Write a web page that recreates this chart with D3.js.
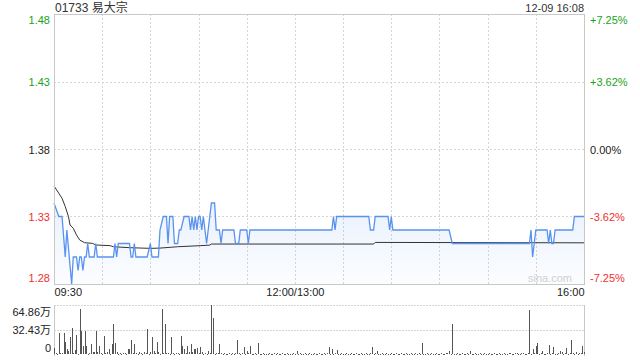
<!DOCTYPE html>
<html>
<head>
<meta charset="utf-8">
<script src="https://cdn.jsdelivr.net/npm/d3@7"></script>
<style>
    body { margin: 0; background: #fff; }
    svg text { font-family: "Liberation Sans", Arial, "Noto Sans CJK SC", sans-serif; }
</style>
</head>
<body>
<svg width="640" height="360"></svg>
<script>
// Title texts
const stockTitle = '01733 易大宗';
const stampText = '12-09 16:08';

// Price axis ticks (left) and change ticks (right)
const priceTicks = [1.48, 1.43, 1.38, 1.33, 1.28];
const pctLabels = ['+7.25%', '+3.62%', '0.00%', '-3.62%', '-7.25%'];
const tickColors = ['#1aa31a', '#1aa31a', '#222', '#f0302f', '#f0302f'];

// Time axis (minute index of trading day, 330 minutes)
const timeTicks = [0, 150, 330];
const timeLabels = ['09:30', '12:00/13:00', '16:00'];
const gridMinutes = [30, 60, 90, 120, 150, 180, 210, 240, 270, 300];

// Price line key points (minute, price)
const priceMinutes = [0, 3, 5, 7, 8, 11, 12, 14, 15, 16, 17, 18, 19, 20, 21, 22, 25, 26, 27, 37,
    38, 39, 40, 47, 48, 49, 50, 51, 58, 60, 61, 65, 66, 68, 70, 71, 72, 74, 75, 77,
    78, 79, 81, 84, 85, 86, 87, 88, 89, 90, 91, 92, 93, 95, 96, 98, 100, 101, 103, 104,
    105, 112, 113, 115, 116, 120, 121, 122, 173, 174, 175, 176, 196, 197, 199, 200, 208, 209, 210, 211,
    246, 248, 296, 297, 298, 300, 307, 308, 309, 310, 311, 312, 323, 324, 330];
const priceValues = [1.34, 1.33, 1.33, 1.30, 1.32, 1.28, 1.30, 1.30, 1.29, 1.30, 1.30, 1.29, 1.30, 1.30, 1.31, 1.30, 1.30, 1.31, 1.30, 1.30,
    1.31, 1.30, 1.31, 1.31, 1.30, 1.30, 1.31, 1.30, 1.30, 1.31, 1.30, 1.30, 1.32, 1.33, 1.33, 1.31, 1.33, 1.33, 1.31, 1.31,
    1.32, 1.32, 1.33, 1.33, 1.32, 1.33, 1.32, 1.33, 1.32, 1.33, 1.33, 1.32, 1.33, 1.31, 1.32, 1.34, 1.34, 1.32, 1.32, 1.31,
    1.32, 1.32, 1.31, 1.31, 1.32, 1.32, 1.31, 1.32, 1.32, 1.33, 1.32, 1.33, 1.33, 1.32, 1.32, 1.33, 1.33, 1.32, 1.33, 1.32,
    1.32, 1.31, 1.31, 1.32, 1.30, 1.32, 1.32, 1.31, 1.32, 1.31, 1.31, 1.32, 1.32, 1.33, 1.33];

// Average price line key points
const avgMinutes = [0, 3, 5, 7, 9, 10, 12, 14, 16, 19, 24, 26, 35, 37, 47, 60, 66, 77, 91, 97, 98, 199, 200, 330];
const avgValues = [1.3526, 1.3472, 1.3435, 1.3373, 1.33, 1.3237, 1.3213, 1.3163, 1.3126, 1.3106, 1.3101, 1.3089,
    1.3084, 1.3076, 1.3069, 1.3064, 1.3066, 1.3076, 1.3084, 1.3088, 1.3096, 1.3096, 1.3108, 1.3105];

// Volume per minute (万股), minute 0..330
const volumes = [
    8, 1, 0.5, 27.6, 1, 0.8, 27.9, 16, 6.6, 3.5,
    23, 34, 1, 5, 25, 0.6, 60, 30, 10, 30,
    10, 0.5, 1, 13, 3, 2, 30, 2, 10, 1.5,
    0.5, 24, 1, 2, 7, 0.6, 13, 40, 15, 2,
    0.5, 1, 0.4, 1, 1, 0.6, 7, 6, 19, 0.8,
    13, 1.5, 0.5, 2, 1, 0.4, 3, 1, 33, 0.6,
    2.5, 23, 4, 1.5, 16, 2, 0.5, 60, 1.5, 40,
    1.5, 1, 0.4, 23, 1.5, 0.5, 1, 1.5, 0.6, 24,
    10, 6, 1.5, 10, 2, 13, 2, 6, 6, 8,
    0.8, 9, 2, 0.5, 1, 0.4, 4, 1, 64.86, 47,
    0.6, 1.5, 1, 13, 0.8, 0.5, 1, 0.6, 0.4, 1,
    0.5, 0.8, 0.6, 1, 18, 0.7, 0.5, 1, 9, 0.6,
    4, 0.8, 10, 0.5, 0.6, 0.8, 0.4, 15, 0.6, 0.5,
    0.8, 0.5, 0.6, 0.4, 0.8, 0.5, 0.6, 0.7, 0.5, 0.8,
    0.6, 0.5, 0.7, 0.6, 0.5, 0.8, 0.4, 0.6, 0.5, 0.7,
    0.6, 4, 0.5, 0.7, 0.6, 0.5, 0.8, 0.6, 0.5, 0.7,
    0.5, 0.6, 0.8, 0.5, 0.6, 0.7, 0.5, 0.6, 1.5, 0.6,
    0.8, 9, 0.6, 6.6, 0.5, 0.7, 5.7, 0.6, 0.5, 0.7,
    0.6, 0.5, 0.7, 0.6, 0.5, 0.8, 0.6, 0.5, 0.7, 0.6,
    0.5, 0.7, 0.6, 0.5, 0.8, 0.6, 0.5, 1, 9, 0.6,
    0.7, 4.4, 0.6, 0.5, 0.7, 0.6, 0.5, 0.8, 0.6, 0.5,
    0.7, 0.6, 0.5, 0.8, 0.6, 0.5, 0.7, 0.6, 0.5, 0.8,
    0.6, 0.5, 0.7, 0.6, 0.5, 0.8, 0.6, 1.5, 0.6, 14.5,
    0.6, 0.5, 0.7, 0.6, 0.5, 0.8, 0.6, 0.5, 0.7, 0.6,
    0.5, 0.8, 0.6, 0.5, 0.7, 1.5, 3.5, 0.6, 40, 0.6,
    0.5, 0.7, 0.6, 0.5, 0.8, 0.6, 0.5, 0.7, 0.6, 4,
    0.6, 0.5, 0.7, 0.6, 0.5, 0.8, 0.6, 0.5, 0.7, 0.6,
    0.5, 0.8, 0.6, 0.5, 0.7, 0.6, 0.5, 0.8, 0.6, 0.5,
    0.7, 0.6, 0.5, 0.8, 1.5, 0.6, 0.5, 0.7, 1.2, 0.6,
    0.5, 0.8, 1.5, 0.6, 0.5, 1, 58, 0.6, 7, 0.8,
    11, 14.5, 0.6, 0.8, 4.4, 0.6, 0.5, 0.7, 12, 0.6,
    0.8, 9, 0.6, 0.5, 1.5, 3.5, 2, 0.6, 0.7, 8,
    0.6, 1, 19, 0.8, 0.5, 3, 0.6, 0.7, 1, 11,
    3
];
const volTicks = [64.86, 32.43, 0];
const volLabels = ['64.86万', '32.43万', '0'];

// Layout
const svg = d3.select('svg');
const plotLeft = 54, plotRight = 584, plotTop = 14, plotBottom = 284;
const volTop = 305, volBottom = 354;
const gridColor = '#d6d6d6';
const frameColor = '#c8c8c8';

// Scales
const x = d3.scaleLinear().domain([0, 330]).range([plotLeft, plotRight]);
const y = d3.scaleLinear().domain([1.28, 1.48]).range([plotBottom, plotTop]);
const yVol = d3.scaleLinear().domain([0, 64.86]).range([volBottom, volTop]);

// Header texts
svg.append('text').attr('x', 55).attr('y', 12).attr('font-size', 12).attr('fill', '#333').text(stockTitle);
svg.append('text').attr('x', plotRight).attr('y', 12).attr('font-size', 11).attr('fill', '#333')
    .attr('text-anchor', 'end').text(stampText);

// Price grid
const grid = svg.append('g').attr('shape-rendering', 'crispEdges');
grid.selectAll('line.h')
    .data(priceTicks.slice(1, -1))
    .enter()
    .append('line')
    .attr('class', 'h')
    .attr('x1', plotLeft).attr('x2', plotRight)
    .attr('y1', (d) => Math.round(y(d)) + 0.5).attr('y2', (d) => Math.round(y(d)) + 0.5)
    .attr('stroke', gridColor).attr('stroke-dasharray', '2,2');
grid.selectAll('line.v')
    .data(gridMinutes)
    .enter()
    .append('line')
    .attr('class', 'v')
    .attr('x1', (d) => Math.round(x(d)) + 0.5).attr('x2', (d) => Math.round(x(d)) + 0.5)
    .attr('y1', plotTop).attr('y2', plotBottom)
    .attr('stroke', gridColor).attr('stroke-dasharray', '2,2');

// Gradient for area under price
const grad = svg.append('defs').append('linearGradient')
    .attr('id', 'areaFill').attr('x1', 0).attr('y1', 0).attr('x2', 0).attr('y2', 1);
grad.append('stop').attr('offset', '0%').attr('stop-color', '#5a96f0').attr('stop-opacity', 0.13);
grad.append('stop').attr('offset', '100%').attr('stop-color', '#5a96f0').attr('stop-opacity', 0.02);

const pricePoints = priceMinutes.map((m, i) => [m, priceValues[i]]);
const avgPoints = avgMinutes.map((m, i) => [m, avgValues[i]]);

svg.append('path')
    .datum(pricePoints)
    .attr('fill', 'url(#areaFill)')
    .attr('d', d3.area().x((d) => x(d[0])).y0(plotBottom).y1((d) => y(d[1])));

// Average line
svg.append('path')
    .datum(avgPoints)
    .attr('fill', 'none')
    .attr('stroke', '#333')
    .attr('stroke-width', 1)
    .attr('d', d3.line().x((d) => x(d[0])).y((d) => y(d[1])));

// Price line
svg.append('path')
    .datum(pricePoints)
    .attr('fill', 'none')
    .attr('stroke', '#5a93ef')
    .attr('stroke-width', 1.3)
    .attr('d', d3.line().x((d) => x(d[0])).y((d) => y(d[1])));

// Frame of price panel
svg.append('rect')
    .attr('x', plotLeft + 0.5).attr('y', plotTop + 0.5)
    .attr('width', plotRight - plotLeft).attr('height', plotBottom - plotTop)
    .attr('fill', 'none').attr('stroke', frameColor).attr('shape-rendering', 'crispEdges');

// Watermark
svg.append('text').attr('x', 572).attr('y', 282).attr('font-size', 11)
    .attr('text-anchor', 'end').attr('fill', '#d0d0d0').text('sina.com');

// Left price axis
const leftAxis = svg.append('g')
    .attr('transform', `translate(${plotLeft - 4},0)`)
    .call(d3.axisLeft(y).tickValues(priceTicks).tickSize(0).tickPadding(0).tickFormat(d3.format('.2f')));
leftAxis.select('.domain').remove();
leftAxis.selectAll('text')
    .attr('font-size', 11)
    .attr('fill', (d, i) => tickColors[i])
    .attr('dy', (d, i) => (i === 0 ? '0.9em' : i === priceTicks.length - 1 ? '-0.2em' : '0.4em'));

// Right change axis
const rightAxis = svg.append('g')
    .attr('transform', `translate(${plotRight + 6},0)`)
    .call(d3.axisRight(y).tickValues(priceTicks).tickSize(0).tickPadding(0).tickFormat((d, i) => pctLabels[i]));
rightAxis.select('.domain').remove();
rightAxis.selectAll('text')
    .attr('font-size', 11)
    .attr('fill', (d, i) => tickColors[i])
    .attr('dy', (d, i) => (i === 0 ? '0.9em' : i === priceTicks.length - 1 ? '-0.2em' : '0.4em'));

// Time axis
const timeAxis = svg.append('g')
    .attr('transform', `translate(0,${plotBottom + 4})`)
    .call(d3.axisBottom(x).tickValues(timeTicks).tickSize(0).tickPadding(0).tickFormat((d, i) => timeLabels[i]));
timeAxis.select('.domain').remove();
timeAxis.selectAll('text')
    .attr('font-size', 11)
    .attr('fill', '#222')
    .attr('text-anchor', (d, i) => (i === 0 ? 'start' : i === timeTicks.length - 1 ? 'end' : 'middle'));

// Volume grid
const volGrid = svg.append('g').attr('shape-rendering', 'crispEdges');
volGrid.selectAll('line.h')
    .data(volTicks.slice(0, -1))
    .enter()
    .append('line')
    .attr('class', 'h')
    .attr('x1', plotLeft).attr('x2', plotRight)
    .attr('y1', (d) => Math.round(yVol(d)) + 0.5).attr('y2', (d) => Math.round(yVol(d)) + 0.5)
    .attr('stroke', gridColor).attr('stroke-dasharray', '2,1');
volGrid.selectAll('line.side')
    .data([plotLeft, plotRight])
    .enter()
    .append('line')
    .attr('class', 'side')
    .attr('x1', (d) => d + 0.5).attr('x2', (d) => d + 0.5)
    .attr('y1', volTop).attr('y2', volBottom + 2)
    .attr('stroke', frameColor);

// Volume bars
svg.append('g')
    .attr('shape-rendering', 'crispEdges')
    .selectAll('rect')
    .data(volumes)
    .enter()
    .append('rect')
    .attr('x', (d, i) => Math.round(x(i)))
    .attr('width', 1)
    .attr('y', (d) => yVol(d))
    .attr('height', (d) => Math.max(1, volBottom - yVol(d)))
    .attr('fill', '#555');

// Volume axis
const volAxis = svg.append('g')
    .attr('transform', `translate(${plotLeft - 3},0)`)
    .call(d3.axisLeft(yVol).tickValues(volTicks).tickSize(0).tickPadding(0).tickFormat((d, i) => volLabels[i]));
volAxis.select('.domain').remove();
volAxis.selectAll('text')
    .attr('font-size', 11)
    .attr('fill', '#222')
    .attr('dy', (d, i) => (i === 0 ? '0.95em' : i === volTicks.length - 1 ? '-0.2em' : '0.35em'));
</script>
</body>
</html>
